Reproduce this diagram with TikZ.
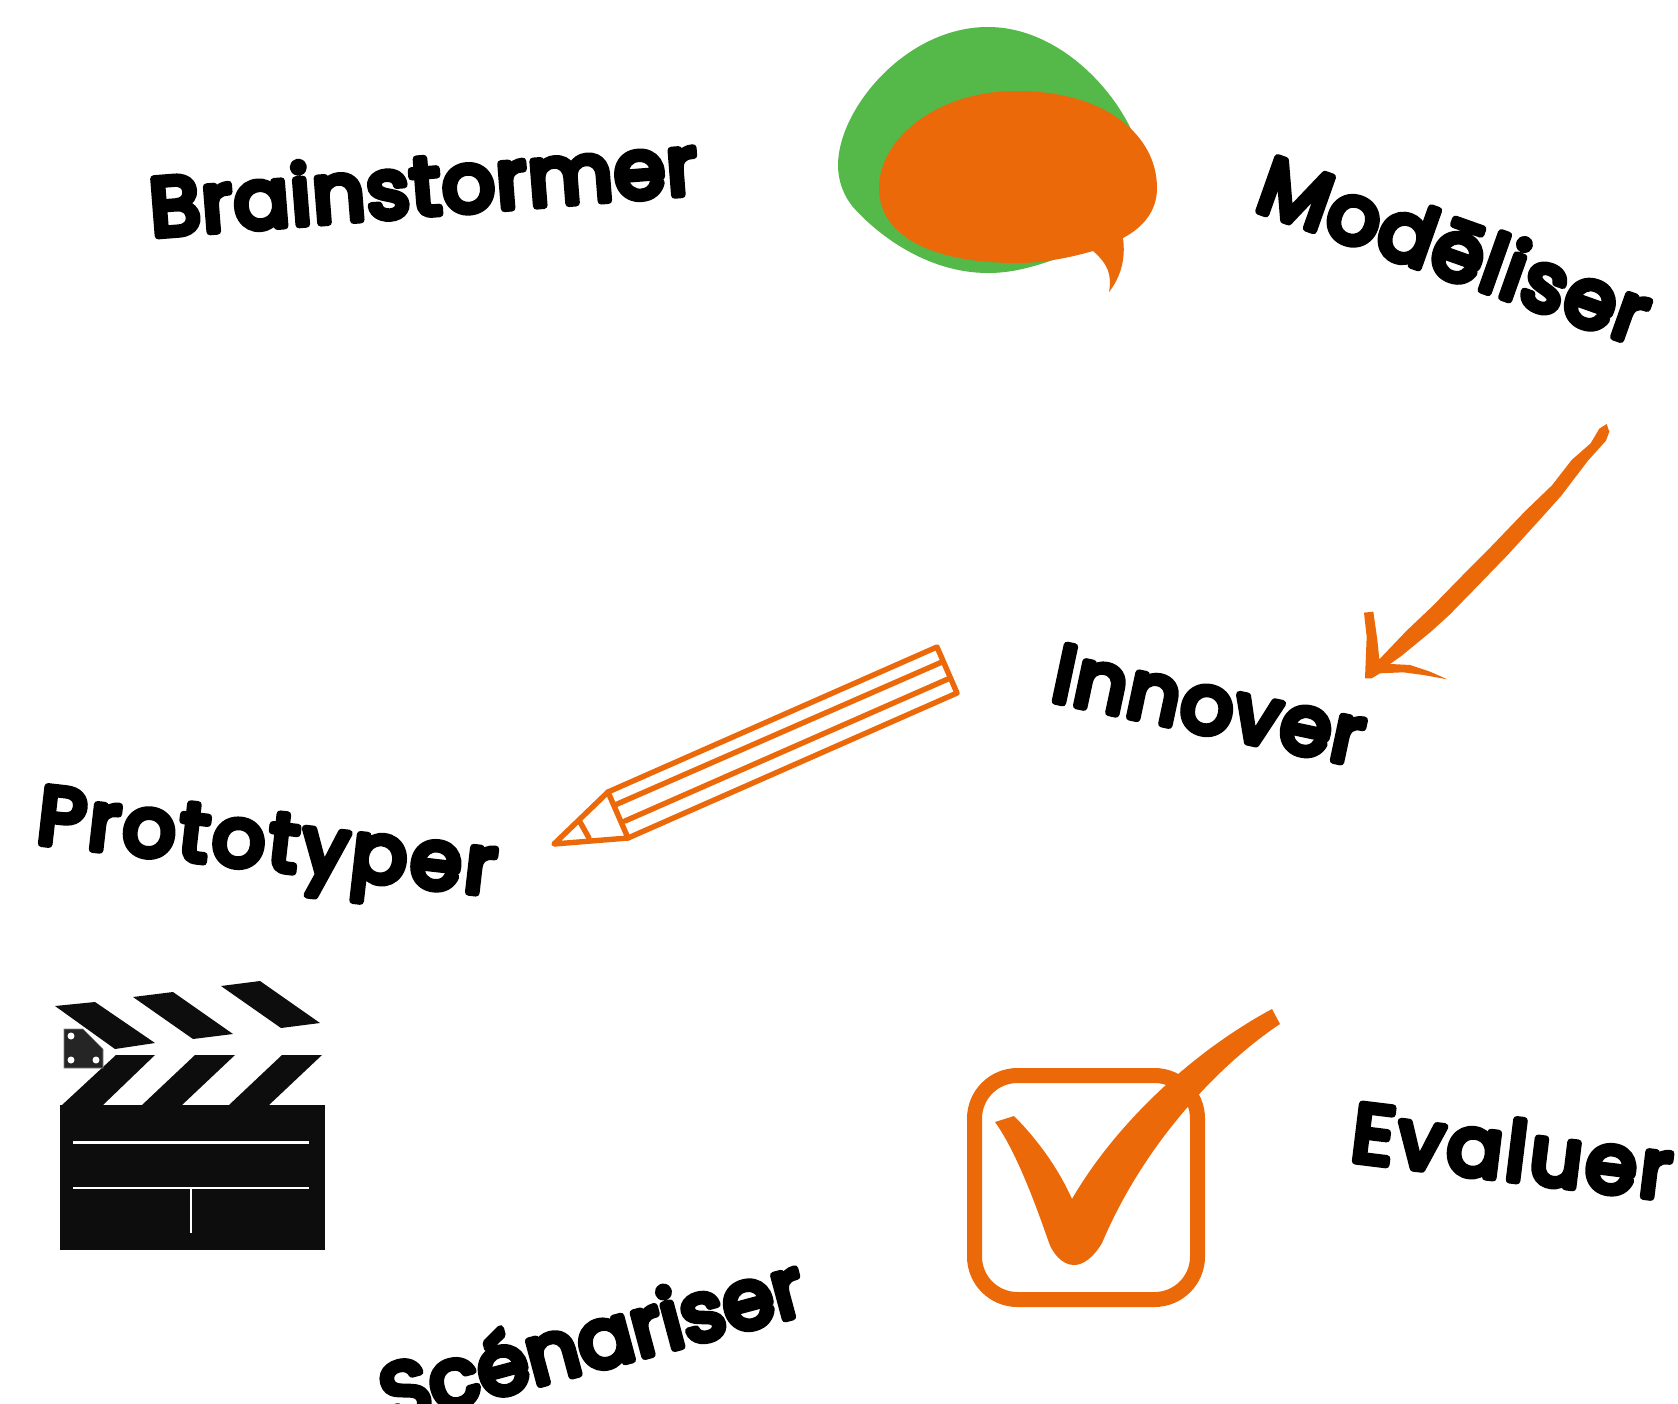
\documentclass[tikz,border=0pt]{standalone}
\usepackage{fontspec}
\newfontfamily\lblfont{Poppins}[LetterSpace=2]
\newfontfamily\lblwide{Poppins}[LetterSpace=4.7]
\newfontfamily\lblnarrow{Poppins}[LetterSpace=0.3]
\newcommand{\fatword}[1]{\special{pdf:code 1 j 1 J 2 Tr 7.2 w}#1\special{pdf:code 0 Tr 1 w 0 j 0 J}}
\definecolor{org}{HTML}{EC6909}
\definecolor{grn}{HTML}{54B948}
\definecolor{clap}{HTML}{0D0D0D}
\tikzset{
  lbl/.style={inner sep=0pt,text=black,font=\lblfont\fontsize{#1}{#1}\selectfont},
  lblw/.style={inner sep=0pt,text=black,font=\lblwide\fontsize{#1}{#1}\selectfont},
  lbln/.style={inner sep=0pt,text=black,font=\lblnarrow\fontsize{#1}{#1}\selectfont},
  orgfill/.style={fill=org,draw=none},
  clapfill/.style={fill=clap,draw=none},
  pencil/.style={draw=org,line width=5.4pt,line join=round,line cap=round},
  whitebar/.style={draw=white}
}
\begin{document}
\begin{tikzpicture}[x=1pt,y=-1pt]
\useasboundingbox (0,0) rectangle (1678,1403);
\fill[white] (0,0) rectangle (1678,1403);
\clip (0,0) rectangle (1678,1403);
% speech bubbles
\fill[grn] (988,27) .. controls (1055,27) and (1113,85) .. (1135,138)
  .. controls (1150,190) and (1110,240) .. (1053,260)
  .. controls (1030,268) and (1010,273) .. (988,273)
  .. controls (925,273) and (875,232) .. (853,207)
  .. controls (843,195) and (838,180) .. (838,165)
  .. controls (838,110) and (905,27) .. (988,27) -- cycle;
\path[orgfill] (1017,91) .. controls (1105,91) and (1157,135) .. (1157,188)
  .. controls (1157,212) and (1142,228) .. (1123,238)
  .. controls (1126,260) and (1120,278) .. (1109,292)
  .. controls (1112,275) and (1108,264) .. (1093,251)
  .. controls (1065,259) and (1040,263) .. (1017,263)
  .. controls (930,263) and (879,235) .. (879,188)
  .. controls (879,140) and (935,91) .. (1017,91) -- cycle;
% hand-drawn arrow
\begin{scope}[shift={(1340,410)},x=0.3333pt,y=-0.3333pt]
\path[orgfill] (800,42) -- (778,56) -- (752,100) -- (695,150) -- (636,226) -- (556,303) -- (436,428)
 -- (366,498) -- (276,590) -- (200,662) -- (118,748) -- (112,690) -- (100,605) -- (72,608) -- (80,680)
 -- (75,805) -- (95,805) -- (120,790) -- (190,787) -- (250,795) -- (322,808) -- (270,785) -- (210,765)
 -- (150,762) -- (184,738) -- (274,664) -- (329,614) -- (409,532) -- (504,434) -- (604,324) -- (664,257)
 -- (744,152) -- (798,92) -- (808,65) -- cycle;
\end{scope}
% pencil
\draw[pencil] (554,844) -- (608,792) -- (937,647) -- (957,693) -- (628,838) -- cycle;
\draw[pencil] (608,792) -- (628,838);
\draw[pencil] (615,805) -- (942,662);
\draw[pencil] (625,821) -- (948,679);
\draw[pencil] (580,822) -- (589,838);
% clapperboard
\path[clapfill] (60,1105) rectangle (325,1250);
\path[clapfill] (116,1055) -- (155,1055) -- (103,1105) -- (62,1105) -- cycle;
\path[clapfill] (195,1055) -- (235,1055) -- (182,1105) -- (142,1105) -- cycle;
\path[clapfill] (282,1055) -- (322,1055) -- (269,1105) -- (229,1105) -- cycle;
\path[clapfill] (55,1006) -- (95,1002) -- (155,1043) -- (115,1049) -- cycle;
\path[clapfill] (133,997) -- (173,992) -- (233,1034) -- (193,1039) -- cycle;
\path[clapfill] (221,986) -- (260,981) -- (320,1023) -- (281,1028) -- cycle;
\fill[fill=clap!90!white,draw=gray,line width=0.6pt] (64,1029) -- (83,1029) -- (103,1049) -- (103,1068) -- (64,1068) -- cycle;
\fill[white] (71,1036) circle (3.5) (71,1060) circle (3.5) (96,1060) circle (3.5);
\draw[whitebar,line width=3pt] (73,1142) -- (309,1142);
\draw[whitebar,line width=2pt] (73,1188) -- (309,1188);
\draw[whitebar,line width=2pt] (191,1188) -- (191,1233);
% check box
\draw[draw=org,line width=15pt,rounded corners=43pt] (974.5,1075.5) rectangle (1197.5,1299.5);
\path[orgfill] (995,1122) -- (1014,1116)
  .. controls (1040,1142) and (1060,1172) .. (1072,1199)
  .. controls (1110,1133) and (1183,1057) .. (1272,1009)
  -- (1280,1024)
  .. controls (1233,1055) and (1150,1130) .. (1102,1243)
  .. controls (1093,1258) and (1083,1265) .. (1074,1265)
  .. controls (1062,1265) and (1052,1253) .. (1048,1240)
  .. controls (1033,1197) and (1015,1150) .. (995,1122) -- cycle;
% labels
\node[lbl=82,rotate=4.5] (brain) at (423,184) {\fatword{Brainstormer}};
\node[lbl=82,rotate=-19.5] (model) at (1455,248) {\fatword{Modēliser}};
\node[lbl=82,rotate=-12] (innov) at (1209,705) {\fatword{Innover}};
\node[lblw=82,rotate=-6.5] (proto) at (266,851) {\fatword{Prototyper}};
\node[lblw=82,rotate=-7] (eval) at (1512,1150) {\fatword{Evaluer}};
\node[lbln=82,rotate=15] (scen) at (591,1338) {\fatword{Scénariser}};
\end{tikzpicture}
\end{document}
